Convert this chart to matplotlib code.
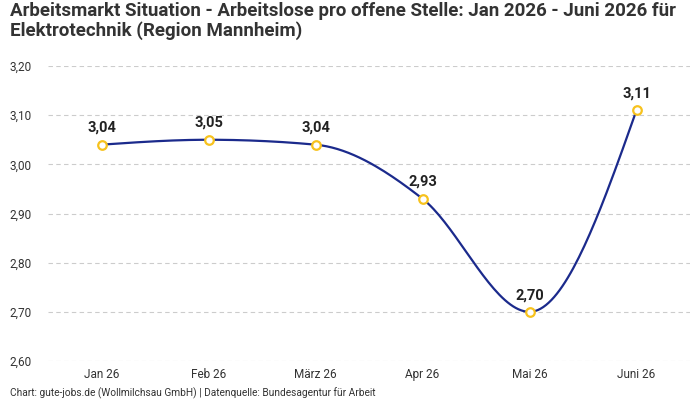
import numpy as np
import matplotlib
matplotlib.use("Agg")
from matplotlib import pyplot as plt

months = ["Jan 26", "Feb 26", "März 26", "Apr 26", "Mai 26", "Juni 26"]
values = [3.04, 3.05, 3.04, 2.93, 2.70, 3.11]
yticks = [2.60, 2.70, 2.80, 2.90, 3.00, 3.10, 3.20]

plt.rcParams['font.family'] = ['Roboto', 'DejaVu Sans']


def monotone_curve(x, y, n=40):
    # d3 curveMonotoneX style cubic
    x = np.asarray(x, float)
    y = np.asarray(y, float)
    k = len(x)
    h = np.diff(x)
    s = np.diff(y) / h
    t = np.zeros(k)
    for i in range(1, k - 1):
        p = (s[i - 1] * h[i] + s[i] * h[i - 1]) / (h[i - 1] + h[i])
        t[i] = (np.sign(s[i - 1]) + np.sign(s[i])) * min(abs(s[i - 1]), abs(s[i]), 0.5 * abs(p))
    t[0] = (3 * s[0] - t[1]) / 2
    t[-1] = (3 * s[-1] - t[-2]) / 2
    xs, ys = [], []
    for i in range(k - 1):
        u = np.linspace(0, 1, n)
        dx = h[i] / 3
        px = [x[i], x[i] + dx, x[i + 1] - dx, x[i + 1]]
        py = [y[i], y[i] + dx * t[i], y[i + 1] - dx * t[i + 1], y[i + 1]]
        b = [(1 - u) ** 3, 3 * u * (1 - u) ** 2, 3 * u ** 2 * (1 - u), u ** 3]
        xs.append(sum(bb * pp for bb, pp in zip(b, px)))
        ys.append(sum(bb * pp for bb, pp in zip(b, py)))
    return np.concatenate(xs), np.concatenate(ys)


fig = plt.figure(figsize=(7, 4), dpi=100)
ax = fig.add_axes([48 / 700, 1 - 361 / 400, 642 / 700, 295 / 400])

xpos = np.arange(len(months))
cx, cy = monotone_curve(xpos, values)
ax.plot(cx, cy, color='#1b2a8c', lw=1.6, zorder=3)
ax.scatter(xpos, values, s=38, facecolor='white', edgecolor='#f7c21d', linewidth=1.6, zorder=4)
for x, v in zip(xpos, values):
    ax.annotate(f"{v:.2f}".replace('.', ','), (x, v), xytext=(0, 7), textcoords='offset points',
                ha='center', va='bottom', fontsize=10.5, fontweight='bold', color='#222222')

ax.set_xlim(-0.5, len(months) - 0.5)
ax.set_ylim(2.60, 3.20)
ax.set_yticks(yticks)
ax.set_yticklabels([f"{v:.2f}".replace('.', ',') for v in yticks])
ax.set_xticks(xpos)
ax.set_xticklabels(months)
ax.tick_params(length=0, labelsize=8.5, labelcolor='#333333')
ax.tick_params(axis='y', pad=12)
ax.tick_params(axis='x', pad=5)
ax.grid(axis='y', color='#cccccc', linestyle=(0, (4, 3)), lw=0.8)
for sp in ax.spines.values():
    sp.set_visible(False)

fig.text(10 / 700, 1 - 2 / 400,
         "Arbeitsmarkt Situation - Arbeitslose pro offene Stelle: Jan 2026 - Juni 2026 für\nElektrotechnik (Region Mannheim)",
         ha='left', va='top', fontsize=13.5, fontweight='bold', color='#333333', linespacing=1.1)
fig.text(10 / 700, 1 - 396 / 400, "Chart: gute-jobs.de (Wollmilchsau GmbH) | Datenquelle: Bundesagentur für Arbeit",
         ha='left', va='baseline', fontsize=7.3, color='#333333')

fig.savefig("out.png", dpi=100)
